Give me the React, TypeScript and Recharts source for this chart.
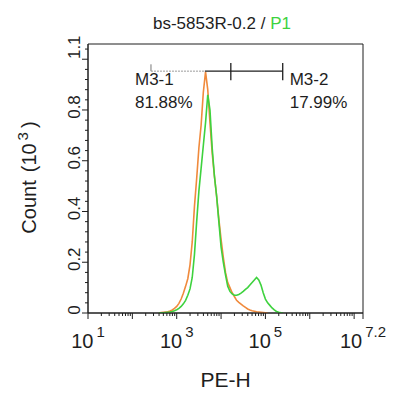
import { LineChart, Line, XAxis, YAxis, ReferenceLine, ReferenceArea, ReferenceDot } from 'recharts';

const FONT = '"Liberation Sans", Arial, Helvetica, sans-serif';
const INK = '#1e1e1e';
const ORANGE = '#f08a3c';
const GREEN = '#3ed23e';

// PE-H bin centres, in log10 units
const logPE = [
  2.6, 2.65, 2.7, 2.75, 2.8, 2.85, 2.9, 2.95, 3.0, 3.05,
  3.1, 3.15, 3.2, 3.25, 3.3, 3.35, 3.4, 3.45, 3.5, 3.55,
  3.6, 3.65, 3.7, 3.75, 3.8, 3.85, 3.9, 3.95, 4.0, 4.05,
  4.1, 4.15, 4.2, 4.25, 4.3, 4.35, 4.4, 4.45, 4.5, 4.55,
  4.6, 4.65, 4.7, 4.75, 4.8, 4.85, 4.9, 4.95, 5.0, 5.05,
  5.1, 5.15, 5.2, 5.25, 5.3, 5.35, 5.4,
];

// control (orange), count x 10^3
const orangeCounts = [
  0, 0.002, 0.003, 0.004, 0.005, 0.008, 0.012, 0.018, 0.026, 0.038,
  0.055, 0.078, 0.105, 0.135, 0.19, 0.28, 0.42, 0.53, 0.65, 0.74,
  0.87, 0.95, 0.88, 0.75, 0.63, 0.54, 0.46, 0.37, 0.29, 0.22,
  0.16, 0.12, 0.1, 0.08, 0.065, 0.05, 0.042, 0.035, 0.028, 0.022,
  0.016, 0.012, 0.009, 0.007, 0.005, 0.004, 0.003, 0.002, 0.001, 0,
  null, null, null, null, null, null, null,
];

// P1 sample (green), count x 10^3
const greenCounts = [
  0, 0.001, 0.001, 0.002, 0.003, 0.004, 0.006, 0.009, 0.013, 0.018,
  0.026, 0.036, 0.05, 0.07, 0.095, 0.14, 0.23, 0.36, 0.48, 0.57,
  0.66, 0.75, 0.86, 0.8, 0.65, 0.54, 0.46, 0.36, 0.26, 0.2,
  0.15, 0.105, 0.085, 0.075, 0.07, 0.07, 0.073, 0.078, 0.085, 0.093,
  0.1, 0.11, 0.12, 0.13, 0.14, 0.13, 0.11, 0.08, 0.055, 0.04,
  0.03, 0.02, 0.012, 0.006, 0.003, 0.001, 0,
];

const xLabelPowers = [1, 3, 5, 7.2];
const xLabelText = ['1', '3', '5', '7.2'];
const yMajorLabels = ['0', '0.2', '0.4', '0.6', '0.8', '1.1'];

// M3 gate, in log10 PE-H / count units
const gateY = 0.953;
const gateStart = 2.42;
const gatePeak = 3.635;
const gateSplit = 4.22;
const gateEnd = 5.39;
const gateLeft = ['M3-1', '81.88%'];
const gateRight = ['M3-2', '17.99%'];

const data = logPE.map((x, i) => ({ x, orange: orangeCounts[i], green: greenCounts[i] }));

// minor y ticks every 0.04, a major (labelled) one every fifth
const yTicks = Array.from({ length: 27 }, (_, i) => +(i * 0.04).toFixed(2));
// log decade ticks 10^1 .. 10^7.2
const xTicks: number[] = [];
for (let n = 1; n <= 7; n++) {
  for (let k = 1; k <= 9; k++) {
    const v = n + Math.log10(k);
    if (v <= 7.2) xTicks.push(+v.toFixed(4));
  }
}
xTicks.push(7.2);

const YTick = ({ x, y, payload }: any) => {
  const i = Math.round(payload.value / 0.04);
  const major = i % 5 === 0;
  const lx = x - 8;
  // labels sit a little above their tick, the top one more so
  const ly = y - (i === 25 ? 12 : 3);
  return (
    <g>
      <line x1={x - (major ? 6 : 3)} x2={x} y1={y} y2={y} stroke={INK} />
      {major && (
        <text x={lx} y={ly} transform={`rotate(-90 ${lx} ${ly})`} textAnchor="middle" fontFamily={FONT} fontSize={17} fill={INK}>
          {yMajorLabels[i / 5]}
        </text>
      )}
    </g>
  );
};

const XTick = ({ x, y, payload }: any) => {
  const v = payload.value;
  const li = xLabelPowers.findIndex((p) => Math.abs(p - v) < 1e-6);
  const decade = Math.abs(v - Math.round(v)) < 1e-6 || li >= 0;
  return (
    <g>
      <line x1={x} x2={x} y1={y} y2={y + (decade ? 6 : 3)} stroke={INK} />
      {li >= 0 && (
        <text x={x} y={y + 35} textAnchor="middle" fontFamily={FONT} fontSize={20} fill={INK}>
          10
          <tspan dx={3} dy={-11} fontSize={15}>{xLabelText[li]}</tspan>
        </text>
      )}
    </g>
  );
};

const yLabel = (props: any) => {
  const vb = props.viewBox ?? { x: 0, y: 44, width: 88, height: 269 };
  const cx = vb.x + 36;
  const cy = vb.y + vb.height / 2 - 1;
  return (
    <text x={cx} y={cy} transform={`rotate(-90 ${cx} ${cy})`} textAnchor="middle" fontFamily={FONT} fontSize={20} fill={INK}>
      Count
      <tspan dx={8}>(10</tspan>
      <tspan dx={3} dy={-8} fontSize={15}>3</tspan>
      <tspan dx={4} dy={8}>)</tspan>
    </text>
  );
};

const gateText = (lines: string[], dx: number) => (props: any) => {
  const { x, y } = props.viewBox;
  return (
    <text fontFamily={FONT} fontSize={17} fill={INK}>
      <tspan x={x + dx} y={y + 14}>{lines[0]}</tspan>
      <tspan x={x + dx} y={y + 37}>{lines[1]}</tspan>
    </text>
  );
};

export default function App() {
  return (
    <div style={{ position: 'absolute', left: 0, top: 0, width: 400, height: 398, background: '#fff', fontFamily: FONT }}>
      <div style={{ position: 'absolute', left: 122, top: 14, width: 200, textAlign: 'center', fontSize: 17, lineHeight: '20px', color: INK }}>
        bs-5853R-0.2 / <span style={{ color: GREEN }}>P1</span>
      </div>
      <LineChart width={400} height={398} data={data} margin={{ top: 44, right: 37, bottom: 0, left: 0 }}>
        <XAxis
          type="number"
          dataKey="x"
          domain={[1, 7.2]}
          ticks={xTicks}
          interval={0}
          allowDataOverflow
          height={85}
          tickLine={false}
          tickSize={0}
          tickMargin={0}
          stroke={INK}
          tick={<XTick />}
          label={{ value: 'PE-H', position: 'insideBottom', offset: 11, fontSize: 21, fill: INK, fontFamily: FONT }}
        />
        <YAxis
          type="number"
          domain={[0, 1.06]}
          ticks={yTicks}
          interval={0}
          allowDataOverflow
          width={88}
          tickLine={false}
          tickSize={0}
          tickMargin={0}
          stroke={INK}
          tick={<YTick />}
          label={yLabel}
        />
        <ReferenceArea x1={1} x2={7.2} y1={0} y2={1.06} fill="none" stroke={INK} strokeWidth={1} />
        <Line type="linear" dataKey="orange" stroke={ORANGE} strokeWidth={1.6} dot={false} isAnimationActive={false} />
        <Line type="linear" dataKey="green" stroke={GREEN} strokeWidth={1.6} dot={false} isAnimationActive={false} />
        <ReferenceLine segment={[{ x: gateStart, y: gateY }, { x: gatePeak, y: gateY }]} stroke="#9a9a9a" strokeDasharray="2 1" ifOverflow="visible" />
        <ReferenceLine segment={[{ x: gatePeak, y: gateY }, { x: gateEnd, y: gateY }]} stroke={INK} strokeWidth={1.3} ifOverflow="visible" />
        <ReferenceLine segment={[{ x: gateStart, y: gateY }, { x: gateStart, y: 0.98 }]} stroke="#777" ifOverflow="visible" />
        <ReferenceLine segment={[{ x: gateSplit, y: 0.917 }, { x: gateSplit, y: 0.985 }]} stroke={INK} strokeWidth={1.3} ifOverflow="visible" />
        <ReferenceLine segment={[{ x: gateEnd, y: 0.917 }, { x: gateEnd, y: 0.985 }]} stroke={INK} strokeWidth={1.3} ifOverflow="visible" />
        <ReferenceDot x={gateStart} y={gateY} r={0} stroke="none" label={gateText(gateLeft, -16)} />
        <ReferenceDot x={gateEnd} y={gateY} r={0} stroke="none" label={gateText(gateRight, 7)} />
      </LineChart>
    </div>
  );
}
